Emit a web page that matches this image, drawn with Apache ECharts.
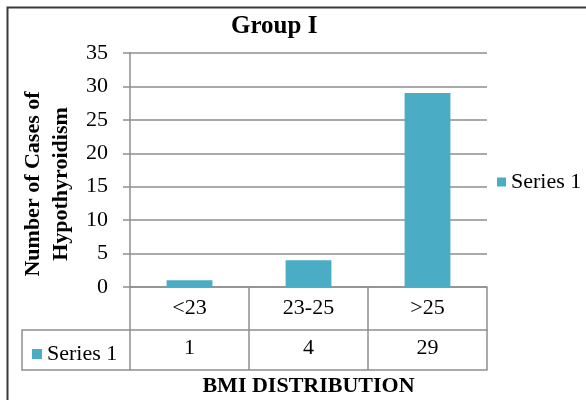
<!DOCTYPE html>
<html>
<head>
<meta charset="utf-8">
<script src="https://cdn.jsdelivr.net/npm/echarts@6/dist/echarts.min.js"></script>
<style>
  html, body { margin: 0; padding: 0; background: #fff; }
  #chart { width: 586px; height: 400px; }
</style>
</head>
<body>
<div id="chart"></div>
<script>
// BMI groups and number of hypothyroidism cases in Group I
const categories = ['<23', '23-25', '>25'];
const seriesName = 'Series 1';
const values = [1, 4, 29];
const yMin = 0;
const yMax = 35;
const yStep = 5;

const SERIF = '"Liberation Serif", "Times New Roman", serif';
const LINE = '#8e8e8e';
const BAR = '#4BACC6';

const gridBox = { left: 130, right: 99, top: 53, bottom: 113 };
const rowH1 = 43;   // category row of the data table
const rowH2 = 40;   // value row of the data table

const chart = echarts.init(document.getElementById('chart'), null, { renderer: 'canvas' });

const plotBottom = 400 - gridBox.bottom;
const tableLeft = 22;

chart.setOption({
  backgroundColor: '#fff',
  animation: false,
  title: {
    text: 'Group I',
    left: 226,
    top: 9,
    textStyle: { fontFamily: SERIF, fontSize: 25, fontWeight: 'bold', color: '#000' }
  },
  legend: [
    {
      data: [seriesName],
      left: 492,
      top: 166,
      icon: 'rect',
      itemWidth: 9,
      itemHeight: 9,
      textStyle: { fontFamily: SERIF, fontSize: 22, color: '#000' }
    },
    {
      data: [seriesName],
      left: 27,
      top: plotBottom + rowH1 + 8,
      icon: 'rect',
      itemWidth: 10,
      itemHeight: 10,
      textStyle: { fontFamily: SERIF, fontSize: 22, color: '#000' }
    }
  ],
  grid: Object.assign({ outerBoundsMode: 'none', containLabel: false }, gridBox),
  xAxis: [
    {
      type: 'category',
      data: categories,
      position: 'bottom',
      axisLine: { show: true, lineStyle: { color: LINE, width: 1.5 } },
      axisTick: { show: true, interval: 0, length: rowH1 + rowH2, lineStyle: { color: LINE, width: 1.5 } },
      axisLabel: { interval: 0, margin: 10, fontFamily: SERIF, fontSize: 22, color: '#000' }
    },
    {
      type: 'category',
      data: categories,
      position: 'bottom',
      offset: rowH1,
      axisLine: { show: true, lineStyle: { color: LINE, width: 1.5 } },
      axisTick: { show: false },
      axisLabel: {
        interval: 0, margin: 7, fontFamily: SERIF, fontSize: 22, color: '#000',
        formatter: (v, i) => String(values[i])
      }
    },
    {
      type: 'category',
      data: categories,
      position: 'bottom',
      offset: rowH1 + rowH2,
      axisLine: { show: true, lineStyle: { color: LINE, width: 1.5 } },
      axisTick: { show: false },
      axisLabel: { show: false },
      name: 'BMI DISTRIBUTION',
      nameLocation: 'middle',
      nameGap: 5,
      nameTextStyle: { fontFamily: SERIF, fontSize: 22, fontWeight: 'bold', color: '#000' }
    }
  ],
  yAxis: {
    type: 'value',
    min: yMin,
    max: yMax,
    interval: yStep,
    axisLine: { show: true, lineStyle: { color: LINE, width: 1.5 } },
    axisTick: { show: true, length: 7, lineStyle: { color: LINE, width: 1.5 } },
    splitLine: { show: true, lineStyle: { color: LINE, width: 1.5 } },
    axisLabel: { margin: 22, fontFamily: SERIF, fontSize: 22, color: '#000' },
    name: 'Number of Cases of\nHypothyroidism',
    nameLocation: 'middle',
    nameGap: 54,
    nameTextStyle: {
      fontFamily: SERIF, fontSize: 22, fontWeight: 'bold', color: '#000',
      lineHeight: 28, padding: [0, 28, 0, 0]
    }
  },
  series: [
    {
      name: seriesName,
      type: 'bar',
      data: values,
      barWidth: '38.5%',
      itemStyle: { color: BAR }
    }
  ],
  graphic: [
    // legend-key cell at the left end of the value row
    {
      type: 'polyline',
      silent: true,
      shape: {
        points: [
          [gridBox.left, plotBottom + rowH1],
          [tableLeft, plotBottom + rowH1],
          [tableLeft, plotBottom + rowH1 + rowH2],
          [gridBox.left, plotBottom + rowH1 + rowH2]
        ]
      },
      style: { stroke: LINE, lineWidth: 1.5, fill: null }
    },
    // outer frame
    {
      type: 'rect',
      silent: true,
      shape: { x: 7.5, y: 7.5, width: 800, height: 600 },
      style: { stroke: '#3a3a3a', lineWidth: 2, fill: null }
    }
  ]
});
</script>
</body>
</html>
